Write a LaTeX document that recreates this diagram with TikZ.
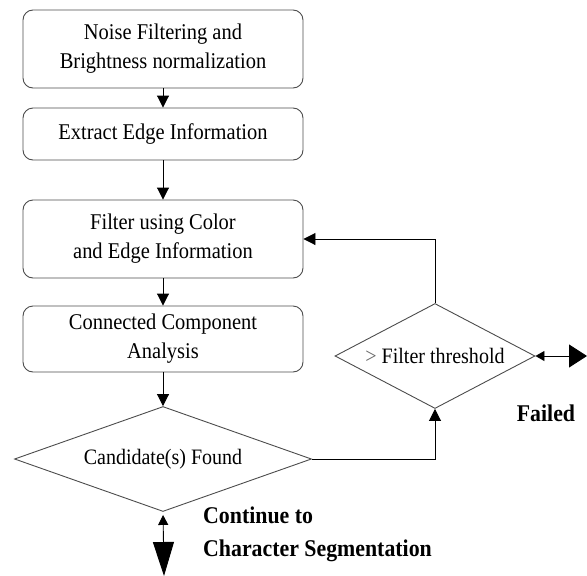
\documentclass[tikz,border=0pt]{standalone}
\usepackage{fontspec}
\setmainfont{Liberation Serif}[FakeStretch=0.91]
\usetikzlibrary{shapes.geometric,arrows.meta}
\begin{document}
\begin{tikzpicture}[x=1pt,y=-1pt,
  procbox/.style={draw=black!70,line width=0.9pt,rounded corners=10pt,minimum width=280pt,inner sep=0pt,align=center,font=\fontsize{22.5}{29}\selectfont},
  decbox/.style={draw=black!70,line width=0.9pt,diamond,inner sep=0pt,align=center,font=\fontsize{22}{29}\selectfont},
  flow/.style={line width=0.9pt,-{Triangle[length=12pt,width=12pt]}},
  boldlbl/.style={font=\bfseries\fontsize{24}{33}\selectfont,inner sep=0pt}]
\useasboundingbox (0,0) rectangle (587,576);
\node[procbox,minimum height=78pt] (b1) at (163,49) {Noise Filtering and\\Brightness normalization};
\node[procbox,minimum height=52pt] (b2) at (163,134) {Extract Edge Information};
\node[procbox,minimum height=78pt] (b3) at (163,239) {Filter using Color\\and Edge Information};
\node[procbox,minimum height=66pt] (b4) at (163,339) {Connected Component\\Analysis};
\node[decbox,aspect=2.83,minimum width=297pt,minimum height=105pt] (d1) at (163,459) {Candidate(s) Found};
\node[decbox,aspect=1.9,minimum width=200pt,minimum height=105pt] (d2) at (435,356) {\textcolor{black!60}{>}\ Filter threshold};
\coordinate (fR) at (587,356);
\coordinate (fD) at (164,576);
\draw[flow] (b1) -- (b2);
\draw[flow] (b2) -- (b3);
\draw[flow] (b3) -- (b4);
\draw[flow] (b4) -- (d1);
\draw[flow] (d1.east) -| (d2.south);
\draw[flow] (d2.north) |- (b3.east);
\draw[line width=0.9pt,{Triangle[length=9pt,width=10pt]}-{Triangle[length=18pt,width=23pt]}] (d2.east) -- (fR);
\draw[line width=0.9pt,shorten <=3pt,{Triangle[length=10pt,width=10pt]}-{Triangle[length=34pt,width=21pt]}] (d1.south) -- (fD);
\node[boldlbl] (fail) at (546,413) {Failed};
\node[boldlbl,anchor=west,align=left] (cont) at (203,534) {Continue to\\Character Segmentation};
\end{tikzpicture}
\end{document}
